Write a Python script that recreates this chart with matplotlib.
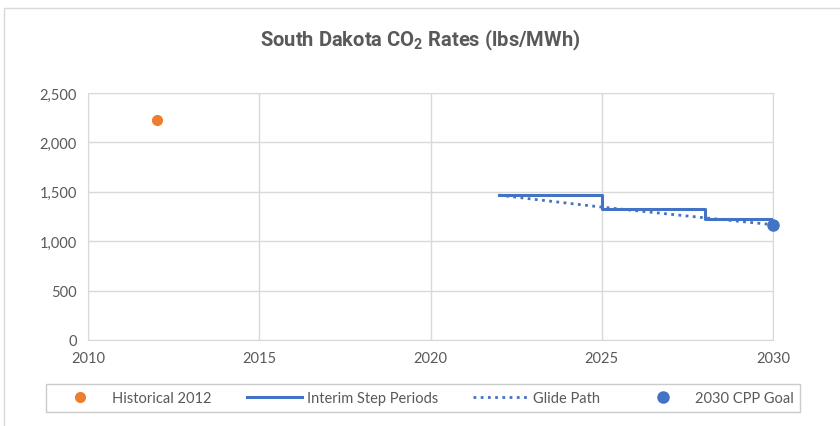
import matplotlib.pyplot as plt
from matplotlib.patches import Rectangle
from matplotlib.ticker import FuncFormatter

plt.rcParams['font.family'] = ['Lato', 'DejaVu Sans']

# Data
hist_year = [2012]
hist_rate = [2231]

step_years = [2022, 2025, 2028, 2030]
step_rates = [1466, 1321, 1226, 1226]

glide_years = [2022, 2023, 2024, 2025, 2026, 2027, 2028, 2029, 2030]
glide_rates = [1466, 1425, 1385, 1345, 1309, 1273, 1237, 1202, 1167]

goal_year = [2030]
goal_rate = [1167]

x_ticks = [2010, 2015, 2020, 2025, 2030]
y_ticks = [0, 500, 1000, 1500, 2000, 2500]

text_gray = '#595959'
grid_gray = '#D9D9D9'
blue = '#4472C4'
orange = '#ED7D31'

fig = plt.figure(figsize=(8.4, 4.27), dpi=100)
ax = fig.add_axes([88 / 840, 1 - 341 / 427, (773 - 88) / 840, (341 - 94) / 427])

# outer chart border
fig.patches.append(Rectangle((4 / 840, -0.1), 1.0, 1 - 9 / 427 + 0.1, transform=fig.transFigure,
                             fill=False, edgecolor='#D9D9D9', linewidth=1.0))

ax.plot(hist_year, hist_rate, 'o', color=orange, markersize=7, label='Historical 2012', zorder=4)
ax.plot(step_years, step_rates, drawstyle='steps-post', color=blue, linewidth=2.2,
        label='Interim Step Periods', zorder=3)
ax.plot(glide_years, glide_rates, linestyle=(0, (1, 1.6)), color=blue, linewidth=2,
        label='Glide Path', zorder=3)
ax.plot(goal_year, goal_rate, 'o', color=blue, markersize=8, label='2030 CPP Goal', zorder=4, clip_on=False)

ax.set_xlim(2010, 2030)
ax.set_ylim(0, 2500)
ax.set_xticks(x_ticks)
ax.set_yticks(y_ticks)
ax.yaxis.set_major_formatter(FuncFormatter(lambda v, p: f'{int(v):,}'))
ax.grid(True, color=grid_gray, linewidth=1)
ax.set_axisbelow(True)
for s in ax.spines.values():
    s.set_color(grid_gray)
ax.tick_params(length=0, labelsize=10.5, labelcolor=text_gray, pad=8)

fig.text(0.5, 1 - 40 / 427, 'South Dakota CO$_\\mathregular{2}$ Rates (lbs/MWh)', ha='center', va='center',
         fontsize=14.5, fontweight='bold', color=text_gray, family=['Roboto', 'DejaVu Sans'])

leg = fig.legend(loc='center', bbox_to_anchor=(423 / 840, 1 - 399 / 427), ncol=4, frameon=True,
                 fancybox=False, edgecolor='#BFBFBF', fontsize=10.5, handlelength=3.8,
                 columnspacing=2.4, handletextpad=0.3, borderpad=0.45, borderaxespad=0)
for t in leg.get_texts():
    t.set_color(text_gray)
leg.get_frame().set_linewidth(1)

fig.savefig('out.png', dpi=100)
